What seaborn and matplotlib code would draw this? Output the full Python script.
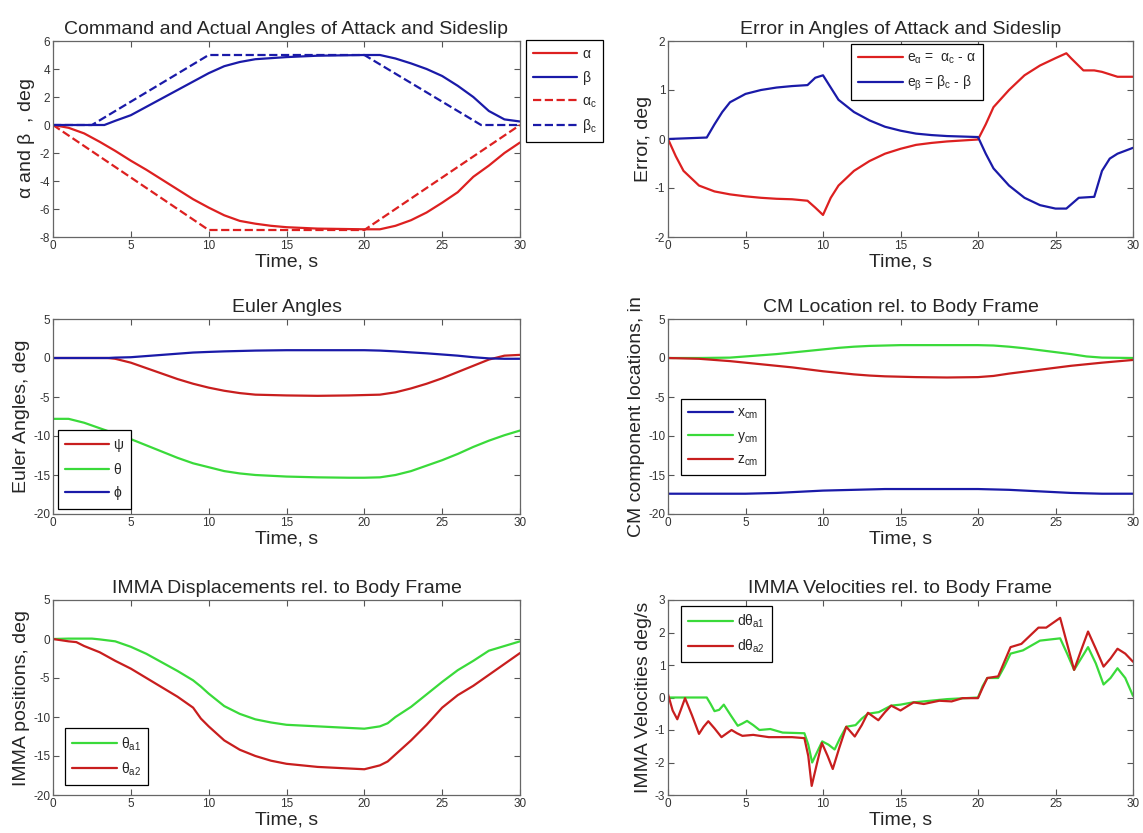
import numpy as np
import pandas as pd
import matplotlib
matplotlib.use("Agg")
import matplotlib.pyplot as plt
import seaborn as sns

# ---------------- data ----------------
# Plot 1: command and actual angles
t_bc = [0, 2.5, 10, 20, 27.5, 30]
beta_c = [0, 0, 5, 5, 0, 0]
t_ac = [0, 10, 20, 30]
alpha_c = [0, -7.5, -7.5, 0]
t_beta = [0, 3.3, 4, 5, 6, 7, 8, 9, 10, 11, 12, 13, 15, 17, 20, 21, 22, 23, 24, 25, 26, 27, 28, 29, 30]
beta = [0, 0, 0.3, 0.7, 1.3, 1.9, 2.5, 3.1, 3.7, 4.2, 4.5, 4.7, 4.85, 4.95, 5.0, 5.0, 4.75, 4.4, 4.0, 3.5, 2.8, 2.0, 1.0, 0.4, 0.25]
t_alpha = [0, 1, 2, 3, 4, 5, 6, 7, 8, 9, 10, 11, 12, 13, 14, 15, 17, 20, 21, 22, 23, 24, 25, 26, 27, 28, 29, 30]
alpha = [0, -0.2, -0.6, -1.2, -1.85, -2.55, -3.2, -3.9, -4.6, -5.3, -5.9, -6.45, -6.85, -7.05, -7.2, -7.3, -7.4, -7.45, -7.45, -7.2, -6.8, -6.25, -5.55, -4.8, -3.7, -2.9, -2.0, -1.25]

# Plot 2: errors
t_ea = [0, 0.5, 1, 2, 3, 4, 5, 6, 7, 8, 9, 9.5, 10, 10.5, 11, 12, 13, 14, 15, 16, 17, 18, 19, 20, 20.5, 21, 22, 23, 24, 25, 25.7, 26, 26.8, 27.5, 28, 29, 30]
e_alpha = [0, -0.35, -0.65, -0.95, -1.07, -1.13, -1.17, -1.2, -1.22, -1.23, -1.26, -1.4, -1.55, -1.2, -0.95, -0.65, -0.45, -0.3, -0.2, -0.12, -0.08, -0.05, -0.03, -0.01, 0.3, 0.65, 1.0, 1.3, 1.5, 1.65, 1.75, 1.65, 1.4, 1.4, 1.37, 1.27, 1.27]
t_eb = [0, 2.5, 3, 3.5, 4, 5, 6, 7, 8, 9, 9.5, 10, 10.5, 11, 12, 13, 14, 15, 16, 17, 18, 19, 20, 20.5, 21, 22, 23, 24, 25, 25.7, 26.5, 27.5, 28, 28.5, 29, 30]
e_beta = [0, 0.03, 0.3, 0.55, 0.75, 0.92, 1.0, 1.05, 1.08, 1.1, 1.25, 1.3, 1.05, 0.8, 0.55, 0.38, 0.25, 0.17, 0.11, 0.08, 0.06, 0.05, 0.04, -0.3, -0.6, -0.95, -1.2, -1.35, -1.42, -1.42, -1.2, -1.18, -0.65, -0.4, -0.3, -0.18]

# Plot 3: Euler angles
t_eul = [0, 1, 2, 3, 3.5, 4, 5, 6, 7, 8, 9, 10, 11, 12, 13, 15, 17, 19, 20, 21, 22, 23, 24, 25, 26, 27, 28, 29, 30]
psi = [0, 0, 0, 0, 0, -0.1, -0.6, -1.3, -2.0, -2.7, -3.3, -3.8, -4.2, -4.5, -4.7, -4.8, -4.85, -4.8, -4.75, -4.7, -4.4, -3.9, -3.3, -2.6, -1.8, -1.0, -0.2, 0.3, 0.4]
theta = [-7.8, -7.8, -8.3, -9.0, -9.35, -9.7, -10.4, -11.2, -12.0, -12.8, -13.5, -14.0, -14.5, -14.8, -15.0, -15.2, -15.3, -15.35, -15.35, -15.3, -15.0, -14.5, -13.8, -13.1, -12.3, -11.4, -10.6, -9.9, -9.3]
phi = [0, 0, 0, 0, 0, 0.05, 0.1, 0.25, 0.4, 0.55, 0.7, 0.78, 0.85, 0.9, 0.95, 1.0, 1.0, 1.0, 1.0, 0.95, 0.85, 0.72, 0.6, 0.45, 0.3, 0.1, -0.05, -0.1, -0.1]

# Plot 4: CM location
t_cm = [0, 2, 4, 5, 6, 7, 8, 9, 10, 11, 12, 13, 14, 15, 16, 18, 20, 21, 22, 23, 24, 25, 26, 27, 28, 30]
x_cm = [-17.4, -17.4, -17.4, -17.4, -17.35, -17.3, -17.2, -17.1, -17.0, -16.95, -16.9, -16.85, -16.8, -16.8, -16.8, -16.8, -16.8, -16.85, -16.9, -17.0, -17.1, -17.2, -17.3, -17.35, -17.4, -17.4]
y_cm = [0, 0, 0.05, 0.2, 0.35, 0.5, 0.7, 0.9, 1.1, 1.3, 1.45, 1.55, 1.6, 1.65, 1.65, 1.65, 1.65, 1.6, 1.45, 1.25, 1.0, 0.75, 0.5, 0.2, 0.05, 0.0]
z_cm = [0, -0.1, -0.4, -0.6, -0.8, -1.0, -1.2, -1.45, -1.7, -1.9, -2.1, -2.25, -2.35, -2.4, -2.45, -2.5, -2.45, -2.3, -2.0, -1.75, -1.5, -1.25, -1.0, -0.8, -0.6, -0.25]

# Plot 5: IMMA displacements
t_pos = [0, 1, 1.5, 2, 2.5, 3, 4, 5, 6, 7, 8, 9, 9.5, 10, 11, 12, 13, 14, 15, 17, 19, 20, 21, 21.5, 22, 23, 24, 25, 26, 27, 28, 29, 30]
th_a1 = [0, 0.05, 0.05, 0.05, 0.05, -0.05, -0.3, -1.0, -1.9, -3.0, -4.1, -5.3, -6.1, -7.0, -8.6, -9.6, -10.3, -10.7, -11.0, -11.2, -11.4, -11.5, -11.2, -10.8, -10.0, -8.7, -7.1, -5.5, -4.0, -2.8, -1.5, -0.9, -0.3]
th_a2 = [0, -0.3, -0.4, -0.9, -1.3, -1.7, -2.8, -3.8, -5.0, -6.2, -7.4, -8.8, -10.2, -11.2, -13.0, -14.2, -15.0, -15.6, -16.0, -16.4, -16.6, -16.7, -16.2, -15.7, -14.8, -13.0, -11.0, -8.8, -7.2, -6.0, -4.6, -3.2, -1.8]

# Plot 6: IMMA velocities
t_v1 = [0, 2.5, 2.75, 3.0, 3.3, 3.6, 4.05, 4.5, 4.8, 5.1, 5.5, 5.9, 6.6, 7.4, 8.8, 9.05, 9.3, 9.6, 9.95, 10.35, 10.75, 11.1, 11.5, 12.1, 12.5, 12.9, 13.6, 14.4, 15.0, 15.8, 16.5, 18, 20, 20.3, 20.6, 21.3, 21.7, 22.1, 22.9, 24, 25.3, 25.75, 26.2, 26.65, 27.1, 27.6, 28.1, 28.55, 29.0, 29.5, 30]
v_a1 = [0, 0, -0.2, -0.42, -0.38, -0.22, -0.55, -0.87, -0.8, -0.72, -0.85, -1.0, -0.97, -1.08, -1.1, -1.45, -2.0, -1.7, -1.35, -1.45, -1.6, -1.25, -0.9, -0.85, -0.65, -0.5, -0.45, -0.25, -0.22, -0.15, -0.12, -0.05, 0, 0.35, 0.6, 0.6, 0.95, 1.35, 1.45, 1.75, 1.82, 1.35, 0.85, 1.2, 1.55, 1.05, 0.4, 0.6, 0.9, 0.6, 0.05]
t_v2 = [0, 0.3, 0.6, 0.85, 1.1, 1.55, 2.0, 2.3, 2.6, 3.0, 3.45, 3.8, 4.1, 4.45, 4.8, 5.5, 6.5, 8, 8.8, 9.05, 9.27, 9.6, 9.93, 10.3, 10.63, 11.05, 11.5, 12.05, 12.5, 12.9, 13.57, 14.0, 14.4, 15.0, 15.4, 15.85, 16.5, 17.5, 18.3, 19, 20, 20.3, 20.6, 21.3, 21.7, 22.1, 22.8, 23.9, 24.4, 25.3, 25.75, 26.2, 26.65, 27.1, 27.6, 28.1, 28.55, 29.0, 29.5, 30]
v_a2 = [0.1, -0.4, -0.67, -0.35, -0.02, -0.55, -1.12, -0.9, -0.73, -0.95, -1.22, -1.1, -1.0, -1.1, -1.18, -1.15, -1.22, -1.22, -1.25, -1.8, -2.72, -2.05, -1.4, -1.8, -2.2, -1.55, -0.9, -1.2, -0.85, -0.47, -0.7, -0.45, -0.25, -0.4, -0.28, -0.15, -0.2, -0.1, -0.12, -0.02, -0.02, 0.3, 0.6, 0.65, 1.1, 1.55, 1.65, 2.15, 2.15, 2.45, 1.65, 0.85, 1.45, 2.03, 1.5, 0.95, 1.2, 1.5, 1.35, 1.1]

titles = ["Command and Actual Angles of Attack and Sideslip",
          "Error in Angles of Attack and Sideslip",
          "Euler Angles",
          "CM Location rel. to Body Frame",
          "IMMA Displacements rel. to Body Frame",
          "IMMA Velocities rel. to Body Frame"]
ylabels = [r"$\alpha$ and $\beta$  , deg", "Error, deg", "Euler Angles, deg",
           "CM component locations, in", "IMMA positions, deg", "IMMA Velocities deg/s"]
xticks = [0, 5, 10, 15, 20, 25, 30]

# ---------------- style ----------------
sns.set_style("ticks")
plt.rcParams['font.family'] = ['Liberation Sans', 'DejaVu Sans']
plt.rcParams['mathtext.fontset'] = 'custom'
plt.rcParams['mathtext.rm'] = 'Liberation Sans'
plt.rcParams['mathtext.it'] = 'Liberation Sans'
plt.rcParams['mathtext.default'] = 'regular'
plt.rcParams['axes.unicode_minus'] = False

RED = '#dd2020'
DRED = '#c81e1e'
BLUE = '#1a1aa8'
GREEN = '#3ada3a'
LW = 1.6

fig = plt.figure(figsize=(11.43, 8.33), dpi=100)
W, H = 1143, 833
def axes_px(x0, x1, y0, y1):
    return fig.add_axes([x0 / W, 1 - y1 / H, (x1 - x0) / W, (y1 - y0) / H])

L = (53, 520)
R = (668, 1133)
rows = [(41, 237), (319, 514), (600, 795)]
axs = [axes_px(*L, *rows[0]), axes_px(*R, *rows[0]),
       axes_px(*L, *rows[1]), axes_px(*R, *rows[1]),
       axes_px(*L, *rows[2]), axes_px(*R, *rows[2])]

def line(ax, x, y, color, label, ls='-'):
    df = pd.DataFrame({'t': x, 'v': y})
    sns.lineplot(data=df, x='t', y='v', ax=ax, color=color, lw=LW, ls=ls,
                 label=label, sort=False, estimator=None, legend=False)

ax = axs[0]
line(ax, t_alpha, alpha, RED, r'$\alpha$')
line(ax, t_beta, beta, BLUE, r'$\beta$')
line(ax, t_ac, alpha_c, RED, r'$\alpha_c$', '--')
line(ax, t_bc, beta_c, BLUE, r'$\beta_c$', '--')

ax = axs[1]
line(ax, t_ea, e_alpha, RED, r'e$_\alpha$ =  $\alpha_c$ - $\alpha$')
line(ax, t_eb, e_beta, BLUE, r'e$_\beta$ = $\beta_c$ - $\beta$')

ax = axs[2]
line(ax, t_eul, psi, DRED, r'$\psi$')
line(ax, t_eul, theta, GREEN, r'$\theta$')
line(ax, t_eul, phi, BLUE, r'$\phi$')

ax = axs[3]
line(ax, t_cm, x_cm, BLUE, r'x$_{cm}$')
line(ax, t_cm, y_cm, GREEN, r'y$_{cm}$')
line(ax, t_cm, z_cm, DRED, r'z$_{cm}$')

ax = axs[4]
line(ax, t_pos, th_a1, GREEN, r'$\theta_{a1}$')
line(ax, t_pos, th_a2, DRED, r'$\theta_{a2}$')

ax = axs[5]
line(ax, t_v1, v_a1, GREEN, r'd$\theta_{a1}$')
line(ax, t_v2, v_a2, DRED, r'd$\theta_{a2}$')

ylims = [(-8, 6), (-2, 2), (-20, 5), (-20, 5), (-20, 5), (-3, 3)]
ysteps = [2, 1, 5, 5, 5, 1]
for i, ax in enumerate(axs):
    ax.set_xlim(0, 30)
    ax.set_ylim(*ylims[i])
    ax.set_xticks(xticks)
    lo, hi = ylims[i]
    ax.set_yticks(np.arange(lo, hi + 0.01, ysteps[i]))
    ax.set_title(titles[i], fontsize=14, pad=5)
    ax.set_xlabel("Time, s", fontsize=14, labelpad=1)
    ax.set_ylabel(ylabels[i], fontsize=14, labelpad=2)
    ax.tick_params(direction='in', length=4, width=0.8, top=True, right=True,
                   labelsize=8.5, labelcolor='#333333', color='#555555', pad=2)
    for s in ax.spines.values():
        s.set_visible(True)
        s.set_color('#666666')
        s.set_linewidth(0.9)

leg_kw = dict(fancybox=False, edgecolor='black', framealpha=1, fontsize=10,
              handlelength=3.2, borderpad=0.5, labelspacing=0.55, handletextpad=0.3)
axs[0].legend(loc='upper left', bbox_to_anchor=(526 / W, 1 - 40 / H),
              bbox_transform=fig.transFigure, borderaxespad=0, **leg_kw)
axs[1].legend(loc='upper left', bbox_to_anchor=(0.394, 0.985), borderaxespad=0, **leg_kw)
axs[2].legend(loc='lower left', bbox_to_anchor=(0.01, 0.025), borderaxespad=0, **leg_kw)
axs[3].legend(loc='upper left', bbox_to_anchor=(0.029, 0.59), borderaxespad=0, **leg_kw)
axs[4].legend(loc='lower left', bbox_to_anchor=(0.026, 0.053), borderaxespad=0, **leg_kw)
axs[5].legend(loc='upper left', bbox_to_anchor=(0.029, 0.971), borderaxespad=0, **leg_kw)
for ax in axs:
    lg = ax.get_legend()
    if lg is not None:
        lg.get_frame().set_linewidth(0.9)

fig.savefig("out.png", dpi=100, facecolor='white')
